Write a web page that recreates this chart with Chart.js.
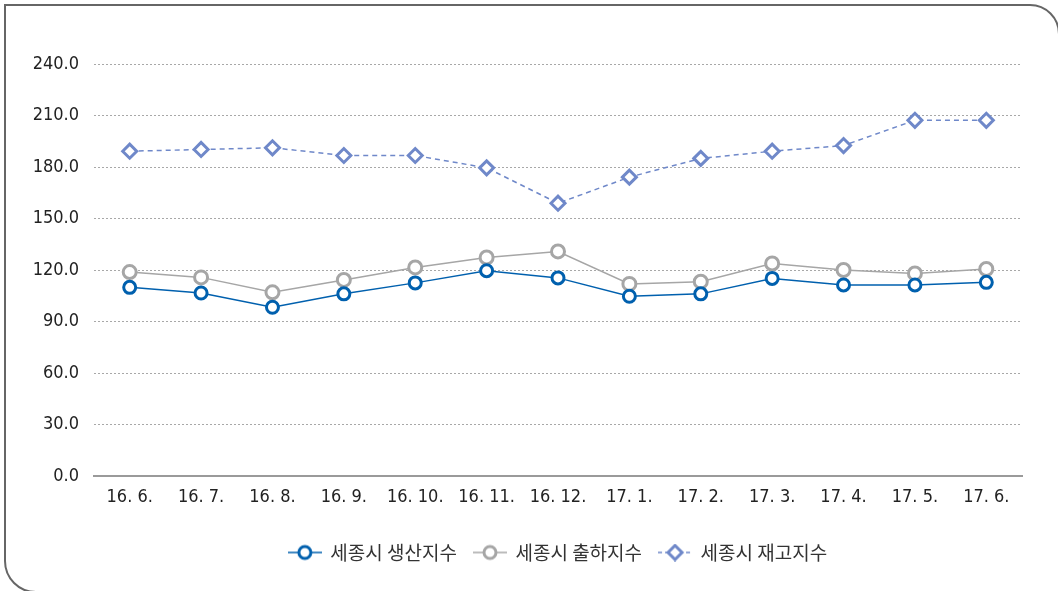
<!DOCTYPE html>
<html>
<head>
<meta charset="utf-8">
<script src="https://cdn.jsdelivr.net/npm/chart.js@4"></script>
<style>
  html, body { margin: 0; padding: 0; background: #fff; overflow: hidden; }
  #frame {
    position: absolute; left: 4px; top: 4px; width: 1056px; height: 589px;
    border: 2px solid #666; border-radius: 0 30px 0 32px; box-sizing: border-box;
  }
  canvas { position: absolute; left: 0; top: 0; }
</style>
</head>
<body>
<div id="frame"></div>
<canvas id="c" width="1058" height="591"></canvas>
<script>
// months shown on the x axis
const labels = ['16. 6.', '16. 7.', '16. 8.', '16. 9.', '16. 10.', '16. 11.', '16. 12.',
                '17. 1.', '17. 2.', '17. 3.', '17. 4.', '17. 5.', '17. 6.'];

// 세종시 생산지수 / 출하지수 / 재고지수
const production = [109.9, 106.6, 98.3, 106.1, 112.5, 119.6, 115.4, 104.7, 106.1, 115.1, 111.3, 111.3, 112.8];
const shipment   = [118.8, 115.7, 107.0, 114.2, 121.5, 127.3, 130.8, 111.9, 113.2, 123.8, 120.0, 118.0, 120.6];
const inventory  = [189.2, 190.2, 191.2, 186.7, 186.7, 179.5, 158.9, 174.1, 185.0, 189.2, 192.5, 207.2, 207.2];

const seriesNames = ['세종시 생산지수', '세종시 출하지수', '세종시 재고지수'];

const yMin = 0, yMax = 240, yStep = 30;

const BLUE = '#0060ae';
const GRAY = '#a6a6a6';
const LAVENDER = '#6f88c9';

const NUM_FONT = "'Liberation Sans Narrow', 'DejaVu Sans Condensed', 'Noto Sans', sans-serif";
const KR_FONT = "'Noto Sans CJK KR', 'Noto Sans', sans-serif";

// little line+marker pictures for the legend
function makeMarker(color, style, dashed) {
  const cv = document.createElement('canvas');
  cv.width = 34; cv.height = 18;
  const g = cv.getContext('2d');
  g.strokeStyle = color;
  g.lineWidth = 1.5;
  if (dashed) g.setLineDash([4, 3]);
  g.beginPath(); g.moveTo(0, 9); g.lineTo(34, 9); g.stroke();
  g.setLineDash([]);
  g.lineWidth = 3;
  g.fillStyle = '#fff';
  g.beginPath();
  if (style === 'circle') {
    g.arc(17, 9, 6, 0, Math.PI * 2);
  } else {
    g.moveTo(17, 2); g.lineTo(24, 9); g.lineTo(17, 16); g.lineTo(10, 9); g.closePath();
  }
  g.fill(); g.stroke();
  return cv;
}
const legendMarkers = [
  makeMarker(BLUE, 'circle', false),
  makeMarker(GRAY, 'circle', false),
  makeMarker(LAVENDER, 'diamond', true)
];

new Chart(document.getElementById('c'), {
  type: 'line',
  data: {
    labels: labels,
    datasets: [
      {
        label: seriesNames[0], data: production,
        borderColor: BLUE, borderWidth: 1.5,
        pointStyle: 'circle', pointRadius: 6, pointBorderWidth: 3,
        pointBackgroundColor: '#fff', pointBorderColor: BLUE
      },
      {
        label: seriesNames[1], data: shipment,
        borderColor: GRAY, borderWidth: 1.5,
        pointStyle: 'circle', pointRadius: 6.5, pointBorderWidth: 3,
        pointBackgroundColor: '#fff', pointBorderColor: GRAY
      },
      {
        label: seriesNames[2], data: inventory,
        borderColor: LAVENDER, borderWidth: 1.5, borderDash: [5, 4],
        pointStyle: 'rectRot', pointRadius: 7, pointBorderWidth: 3,
        pointBackgroundColor: '#fff', pointBorderColor: LAVENDER
      }
    ]
  },
  options: {
    responsive: false,
    animation: false,
    events: [],
    layout: { padding: { top: 64, right: 36, bottom: 19, left: 0 } },
    scales: {
      x: {
        offset: true,
        grid: { display: false, drawTicks: false },
        border: { display: true, color: '#9a9a9a', width: 2 },
        ticks: { color: '#222', padding: 11, maxRotation: 0, autoSkip: false, font: { family: NUM_FONT, size: 18 } },
        afterFit: (s) => { s.height = 50; }
      },
      y: {
        min: yMin, max: yMax,
        grid: {
          drawTicks: false,
          color: (ctx) => ctx.tick && ctx.tick.value === yMin ? 'rgba(0,0,0,0)' : '#a8a8a8',
          lineWidth: 1
        },
        border: { display: false, dash: [2, 2] },
        ticks: {
          stepSize: yStep, color: '#222', padding: 15,
          font: { family: NUM_FONT, size: 18 },
          callback: (v) => Number(v).toFixed(1)
        },
        afterFit: (s) => { s.width = 94; }
      }
    },
    plugins: {
      tooltip: { enabled: false },
      legend: {
        position: 'bottom',
        fullSize: false,
        labels: {
          usePointStyle: true,
          pointStyleWidth: 32,
          padding: 17,
          color: '#333',
          font: { family: KR_FONT, size: 19 },
          generateLabels: (chart) => {
            const items = Chart.defaults.plugins.legend.labels.generateLabels(chart);
            items.forEach((it, i) => { it.pointStyle = legendMarkers[i]; });
            return items;
          }
        }
      }
    }
  }
});
</script>
</body>
</html>
